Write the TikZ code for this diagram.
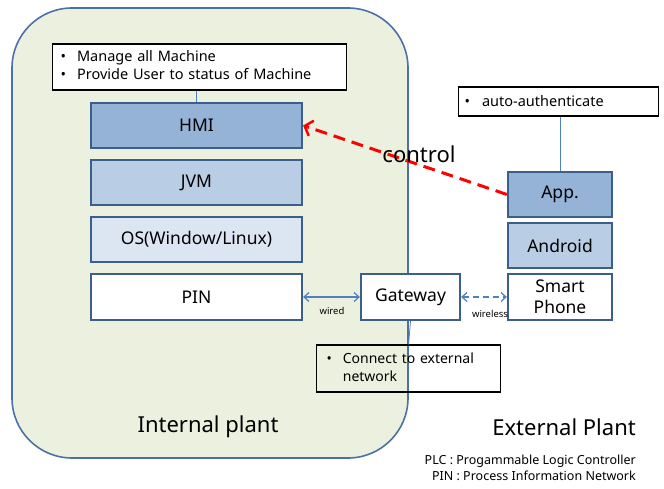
\documentclass[tikz,border=0pt]{standalone}
\usepackage{fontspec}
\setmainfont{Noto Sans}
\usetikzlibrary{arrows.meta}
\definecolor{plantbg}{HTML}{EBF1DE}
\definecolor{plantbd}{HTML}{4A72A8}
\definecolor{boxbd}{HTML}{3A5F8C}
\definecolor{hmifill}{HTML}{95B3D7}
\definecolor{jvmfill}{HTML}{B9CDE5}
\definecolor{osfill}{HTML}{DCE6F2}
\definecolor{linkblue}{HTML}{4F81BD}
\tikzset{
  layer/.style={draw=boxbd, line width=2.2pt, inner sep=0pt, font=\fontsize{17.5}{19}\selectfont},
  notebox/.style={draw=black, line width=1.2pt, inner sep=0pt, font=\fontsize{14.5}{18}\selectfont},
  tie/.style={draw=linkblue, line width=0.8pt},
  wire/.style={draw=linkblue, line width=1.2pt, {Straight Barb[length=5pt,width=9pt]}-{Straight Barb[length=5pt,width=9pt]}},
  small/.style={font=\fontsize{9.5}{10}\selectfont, inner sep=0pt}
}
\begin{document}
\begin{tikzpicture}[x=1pt,y=-1pt]
\useasboundingbox (0,0) rectangle (664,489);
% internal plant
\draw[fill=plantbg, draw=plantbd, line width=1.6pt, rounded corners=60pt] (12,8) rectangle (408,458);
% layers
\node[layer, fill=hmifill, minimum width=211pt, minimum height=45pt] (hmi) at (196.5,125.5) {HMI};
\node[layer, fill=jvmfill, minimum width=211pt, minimum height=45pt] (jvm) at (196.5,182.5) {JVM};
\node[layer, fill=osfill, minimum width=211pt, minimum height=45pt] (os) at (196.5,239.5) {OS(Window/Linux)};
\node[layer, fill=white, minimum width=211pt, minimum height=46pt] (pin) at (196.5,297) {PIN};
\node[layer, fill=white, minimum width=99pt, minimum height=46pt] (gw) at (410.5,297) {Gateway};
\node[layer, fill=white, minimum width=104pt, minimum height=46pt, align=center, font=\fontsize{17.5}{21}\selectfont] (sp) at (560,297) {Smart\\Phone};
\node[layer, fill=jvmfill, minimum width=104pt, minimum height=45pt] (andr) at (560,245.5) {Android};
\node[layer, fill=hmifill, minimum width=104pt, minimum height=45pt] (app) at (560,194.5) {App.};
% notes
\node[notebox, fill=white, minimum width=294pt, minimum height=46pt, anchor=west, text width=294pt] (n1) at (52,67)
  {\hspace{8pt}\begin{tabular}{@{}l@{\hspace{11pt}}l@{}}\textbullet & Manage all Machine\\[0pt] \textbullet & Provide User to status of Machine\end{tabular}};
\node[notebox, fill=white, minimum width=200pt, minimum height=29pt, anchor=west, text width=200pt] (n2) at (458,101.5)
  {\hspace{6pt}\textbullet\hspace{12pt}auto-authenticate};
\node[notebox, minimum width=184pt, minimum height=47pt, anchor=west, text width=184pt, font=\fontsize{14}{18}\selectfont] (n3) at (316,368.5)
  {\hspace{10pt}\begin{tabular}{@{}l@{\hspace{11pt}}l@{}}\textbullet & Connect to external\\[0pt] & network\end{tabular}};
% ties
\draw[tie] (n1.south -| hmi.north) -- (hmi.north);
\draw[tie] (n2.south -| app.north) -- (app.north);
\draw[tie] (gw.south) -- (n3.north);
% links
\draw[wire] (pin.east) -- (gw.west);
\node[small] (wired) at (332,311) {wired};
\draw[wire, dashed, dash pattern=on 6pt off 4pt] (gw.east) -- (sp.west);
\node[small] (wless) at (490,314) {wireless};
% control
\draw[draw=red, line width=3pt, dash pattern=on 12pt off 7pt, -{Straight Barb[length=7pt,width=16pt,line width=2.5pt]}] (app.west) -- (hmi.east);
\node[font=\fontsize{22}{24}\selectfont, inner sep=0pt] (ctl) at (419,154) {control};
% titles
\node[font=\fontsize{22}{24}\selectfont, inner sep=0pt] (ip) at (208,427) {Internal plant};
\node[font=\fontsize{22}{24}\selectfont, inner sep=0pt, anchor=east] (ep) at (636,427) {External Plant};
\node[font=\fontsize{12.5}{16}\selectfont, inner sep=0pt, anchor=north east, align=right] (legend) at (636,455)
  {PLC : Progammable Logic Controller\\PIN : Process Information Network};
\end{tikzpicture}
\end{document}
